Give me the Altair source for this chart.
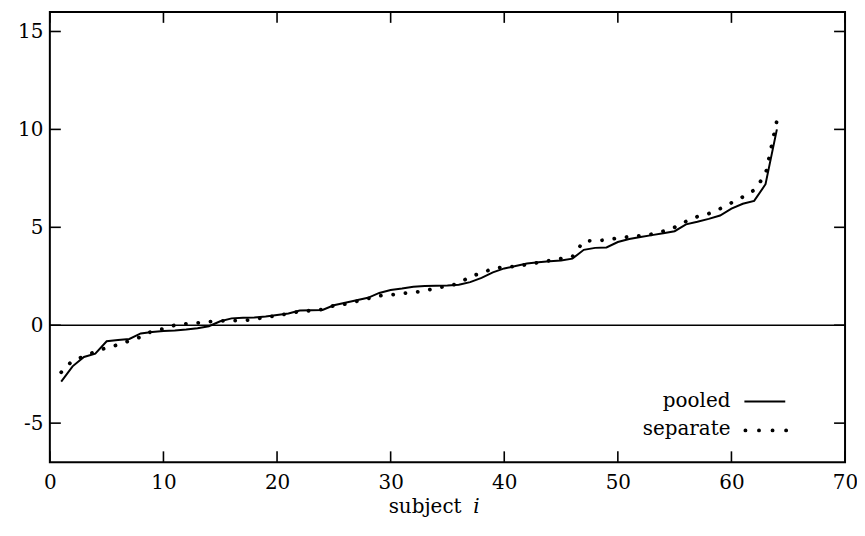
import altair as alt
import pandas as pd

# ---- data ----
subjects = list(range(1, 65))
pooled = [-2.88, -2.10, -1.62, -1.45, -0.82, -0.76, -0.70, -0.42, -0.35, -0.30,
          -0.27, -0.22, -0.15, -0.05, 0.20, 0.35, 0.38, 0.40, 0.45, 0.52,
          0.60, 0.75, 0.76, 0.78, 1.02, 1.15, 1.28, 1.40, 1.65, 1.80,
          1.87, 1.96, 2.00, 2.02, 2.03, 2.07, 2.20, 2.42, 2.70, 2.90,
          3.02, 3.15, 3.22, 3.27, 3.30, 3.40, 3.85, 3.95, 3.97, 4.25,
          4.40, 4.50, 4.60, 4.70, 4.80, 5.15, 5.28, 5.43, 5.60, 5.95,
          6.20, 6.35, 7.20, 10.00]
separate = [-2.40, -1.80, -1.60, -1.35, -1.15, -1.00, -0.80, -0.60, -0.30, -0.18,
            0.00, 0.07, 0.12, 0.18, 0.22, 0.24, 0.24, 0.30, 0.42, 0.48,
            0.60, 0.70, 0.75, 0.80, 1.00, 1.08, 1.22, 1.36, 1.50, 1.55,
            1.62, 1.68, 1.75, 1.90, 2.00, 2.12, 2.50, 2.65, 2.90, 2.97,
            3.00, 3.10, 3.20, 3.30, 3.40, 3.50, 4.30, 4.32, 4.35, 4.45,
            4.52, 4.57, 4.65, 4.80, 5.00, 5.30, 5.55, 5.70, 5.95, 6.25,
            6.55, 6.90, 7.70, 10.45]
legend_names = ["pooled", "separate"]
x_ticks = [0, 10, 20, 30, 40, 50, 60, 70]
y_ticks = [-5, 0, 5, 10, 15]
x_domain = [0, 70]
y_domain = [-7, 16]
x_title_word = "subject"
x_title_var = "i"

df = pd.DataFrame({"subject": subjects, "pooled": pooled, "separate": separate})
xt = pd.DataFrame({"t": x_ticks})
yt = pd.DataFrame({"t": y_ticks})
one = pd.DataFrame({"k": [0]})

FONT = "DejaVu Serif"
FS = 20
W, H = 798, 452
TICK = 11

xs = alt.Scale(domain=x_domain, nice=False, zero=False)
ys = alt.Scale(domain=y_domain, nice=False, zero=False)

common_axis = dict(domain=False, grid=False, ticks=False, tickSize=0,
                   labelFont=FONT, labelFontSize=FS, labelColor="black",
                   labelFlush=False, labelOverlap=False,
                   labelExpr="toString(datum.value)", title=None)

x_bottom = alt.Axis(orient="bottom", values=x_ticks, labelPadding=10,
                    **common_axis)
y_left = alt.Axis(orient="left", values=y_ticks, labelPadding=7,
                  **common_axis)

zero_line = alt.Chart(one).mark_rule(color="black", strokeWidth=1.5).encode(
    y=alt.datum(0, scale=ys, axis=None)
)

pooled_line = alt.Chart(df).mark_line(color="black", strokeWidth=2,
                                      clip=True).encode(
    x=alt.X("subject:Q", scale=xs, axis=x_bottom),
    y=alt.Y("pooled:Q", scale=ys, axis=y_left),
)

separate_line = alt.Chart(df).mark_line(color="black", strokeWidth=3.8,
                                        strokeDash=[0.1, 12.3],
                                        strokeCap="round", clip=True).encode(
    x=alt.X("subject:Q", scale=xs, axis=None),
    y=alt.Y("separate:Q", scale=ys, axis=None),
)

# inward ticks on all four sides
tick_style = dict(color="black", strokeWidth=1.6)
ticks_bottom = alt.Chart(xt).mark_rule(**tick_style).encode(
    x=alt.X("t:Q", scale=xs, axis=None), y=alt.value(H - TICK), y2=alt.value(H))
ticks_top = alt.Chart(xt).mark_rule(**tick_style).encode(
    x=alt.X("t:Q", scale=xs, axis=None), y=alt.value(0), y2=alt.value(TICK))
ticks_left = alt.Chart(yt).mark_rule(**tick_style).encode(
    y=alt.Y("t:Q", scale=ys, axis=None), x=alt.value(0), x2=alt.value(TICK))
ticks_right = alt.Chart(yt).mark_rule(**tick_style).encode(
    y=alt.Y("t:Q", scale=ys, axis=None), x=alt.value(W - TICK), x2=alt.value(W))

# axis title: word plus italic variable
title_word = alt.Chart(one).mark_text(
    text=x_title_word, font=FONT, fontSize=FS, align="left",
    baseline="alphabetic", color="black").encode(
    x=alt.value(340), y=alt.value(503))
title_var = alt.Chart(one).mark_text(
    text=x_title_var, font=FONT, fontSize=FS, fontStyle="italic",
    align="left", baseline="alphabetic", color="black").encode(
    x=alt.value(425), y=alt.value(503))

# legend (inside the plot, bottom right)
leg_pooled_text = alt.Chart(one).mark_text(
    text=legend_names[0], font=FONT, fontSize=FS, align="right",
    baseline="alphabetic", color="black").encode(
    x=alt.value(683), y=alt.value(397))
leg_sep_text = alt.Chart(one).mark_text(
    text=legend_names[1], font=FONT, fontSize=FS, align="right",
    baseline="alphabetic", color="black").encode(
    x=alt.value(683), y=alt.value(425))
leg_pooled_line = alt.Chart(one).mark_rule(color="black", strokeWidth=2).encode(
    x=alt.value(697), x2=alt.value(738), y=alt.value(391))
leg_sep_line = alt.Chart(one).mark_rule(
    color="black", strokeWidth=3.8, strokeDash=[0.1, 13.5],
    strokeCap="round").encode(
    x=alt.value(698), x2=alt.value(740), y=alt.value(420))

chart = alt.layer(
    pooled_line, zero_line, separate_line,
    ticks_bottom, ticks_top, ticks_left, ticks_right,
    title_word, title_var,
    leg_pooled_text, leg_sep_text, leg_pooled_line, leg_sep_line,
).resolve_axis(x="independent", y="independent").properties(
    width=W, height=H,
    autosize=alt.AutoSizeParams(type="none"),
    padding={"left": 42, "top": 3, "right": 12, "bottom": 60},
    background="white",
).configure_view(stroke="black", strokeWidth=2)

chart.save("out.html", embed_options={"renderer": "svg", "actions": False})
